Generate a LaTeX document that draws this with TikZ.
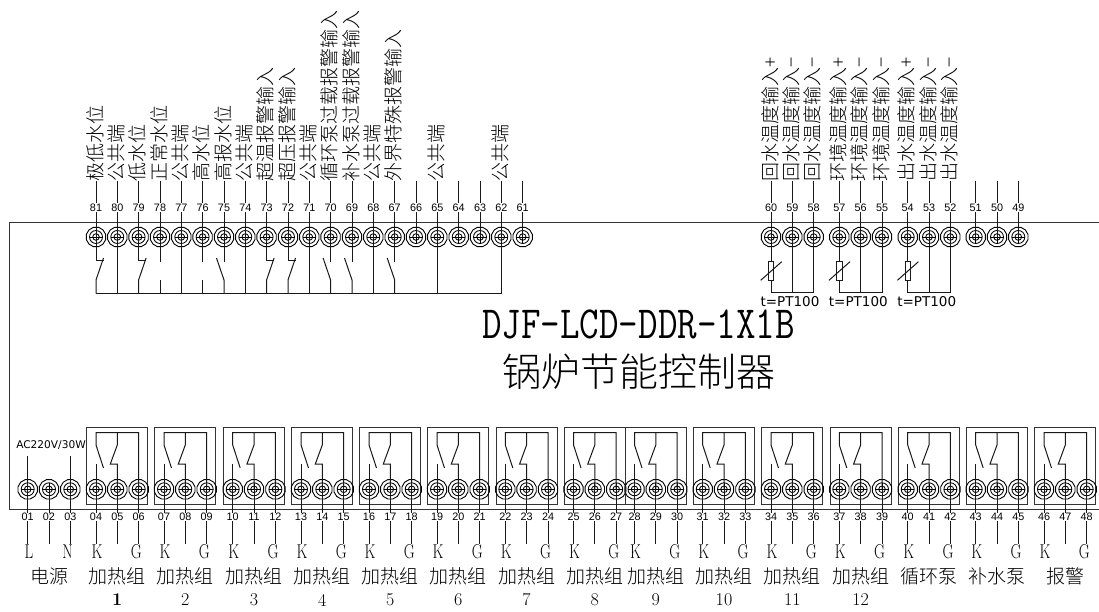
\documentclass[tikz,border=0pt]{standalone}
\usepackage{fontspec}
\usepackage{graphicx}
\usetikzlibrary{shapes.geometric}
\newfontfamily\cjk{Noto Sans CJK SC Light}
\newfontfamily\dvs{DejaVu Sans}
\newfontfamily\lbs{Liberation Sans}
\newcommand{\fs}[1]{\fontsize{#1}{#1}\selectfont}
\tikzset{
  wire/.style={line width=1pt,color=black!90},
  frameline/.style={line width=1pt,color=black!80},
  terminalnode/.style={regular polygon,regular polygon sides=12,draw=black,line width=0.9pt,minimum size=20pt,inner sep=0pt,
    path picture={\draw[line width=0.85pt] (path picture bounding box.center) circle (6.5pt) circle (3.3pt);
      \draw[line width=0.85pt] ([xshift=-6.5pt]path picture bounding box.center)--([xshift=6.5pt]path picture bounding box.center);
      \draw[line width=0.85pt] ([yshift=-6.5pt]path picture bounding box.center)--([yshift=6.5pt]path picture bounding box.center);}},
  numlabel/.style={font=\lbs\fs{10.8},fill=white,inner sep=0.5pt,text height=7.6pt,text depth=0pt},
  vertlabel/.style={font=\cjk\fs{19},rotate=90,anchor=west,inner sep=0pt},
  grouplabel/.style={font=\cjk\fs{19},inner sep=0pt},
  pinlabel/.style={font=\fs{20},inner sep=0pt},
}
\newcommand{\kg}[1]{\scalebox{.75}[1]{#1}}
\begin{document}
\begin{tikzpicture}[x=1pt,y=-1pt]
\useasboundingbox (0,0) rectangle (1099,612);
\fill[white] (0,0) rectangle (1099,612);
% controller outline
\coordinate (fA) at (1099,223); \coordinate (fB) at (9.5,223);
\coordinate (fC) at (9.5,509);  \coordinate (fD) at (1099,509);
\draw[frameline] (fA)--(fB)--(fC)--(fD);
% top terminals
\foreach \n/\x in {81/96,80/117.3,79/138.6,78/160,77/181.3,76/202.6,75/224,74/245.3,73/266.6,72/288,71/309.3,70/330.6,69/352,68/373.3,67/394.7,66/416,65/437.3,64/458.7,63/480,62/501.3,61/522.7,60/771,59/792.3,58/813.7,57/839.3,56/860.7,55/882,54/907.7,53/929,52/950.3,51/975.7,50/997,49/1018.3}{
  \node[terminalnode] (t\n) at (\x,237) {};
  \coordinate (e\n) at (\x,181.5);
  \draw[wire] (e\n)--(t\n.center);
  \node[numlabel] (n\n) at (\x,207.5) {\n};
}
% top labels
\foreach \n/\s in {81/极低水位,80/公共端,79/低水位,78/正常水位,77/公共端,76/高水位,75/高报水位,74/公共端,73/超温报警输入,72/超压报警输入,71/公共端,70/循环泵过载报警输入,69/补水泵过载报警输入,68/公共端,67/外界特殊报警输入,65/公共端,62/公共端,60/回水温度输入+,59/回水温度输入−,58/回水温度输入−,57/环境温度输入+,56/环境温度输入−,55/环境温度输入−,54/出水温度输入+,53/出水温度输入−,52/出水温度输入−}{
  \node[vertlabel] (lab\n) at ([xshift=-1pt]e\n) {\s};
}
% common rail of the inputs
\coordinate (railL) at (96,293.5); \coordinate (railR) at (501.3,293.5);
\draw[wire] (railL)--(railR);
% straight to the rail
\foreach \n/\x in {80/117.3,77/181.3,74/245.3,71/309.3,68/373.3,65/437.3,62/501.3}{
  \coordinate (r\n) at (\x,293.5);
  \draw[wire] (t\n.center)--(r\n);
}
% contact closing towards the right
\foreach \n/\x in {81/96,79/138.6,73/266.6,72/288}{
  \coordinate (r\n) at (\x,293.5);
  \draw[wire] (t\n.center)--(\x,260)--(\x+7.5,260);
  \draw[wire] (\x+7.5,258)--(\x,280)--(r\n);
}
% contact closing from the left
\foreach \n/\x in {75/224,70/330.6,69/352,67/394.7}{
  \coordinate (r\n) at (\x,293.5);
  \draw[wire] (t\n.center)--(\x,262);
  \draw[wire] (\x-7.5,258)--(\x,280)--(r\n);
}
% open stubs
\foreach \n/\x in {78/160,76/202.6}{
  \coordinate (r\n) at (\x,293.5);
  \draw[wire] (t\n.center)--(\x,262);
  \draw[wire] (\x,280)--(r\n);
}
% PT100 sensors
\foreach \a/\b/\c/\xa/\xb/\xc in {60/59/58/771/792.3/813.7,57/56/55/839.3/860.7/882,54/53/52/907.7/929/950.3}{
  \coordinate (p\a) at (\xa,292.7); \coordinate (p\b) at (\xb,292.7); \coordinate (p\c) at (\xc,292.7);
  \draw[wire] (t\a.center)--(p\a)--(p\c)--(t\c.center);
  \draw[wire] (t\b.center)--(p\b);
  \node[draw=black!90,line width=.9pt,fill=white,minimum width=5.5pt,minimum height=18.5pt,inner sep=0pt] (res\a) at (\xa,271) {};
  \draw[wire] (\xa-10.3,280.3)--(\xa+10.7,261.7);
  \node[font=\dvs\fs{13.5},inner sep=0pt] (pt\a) at (\xa+19,301.5) {t=PT100};
}
% power terminals
\foreach \n/\x/\s in {01/27.7/L,02/49/,03/70.3/N}{
  \node[terminalnode] (t\n) at (\x,489.3) {};
  \coordinate (d\n) at (\x,544);
}
\coordinate (u01) at (27.7,456); \coordinate (u03) at (70.3,456);
\draw[wire] (u01)--(d01); \draw[wire] (t02.center)--(d02); \draw[wire] (u03)--(d03);
\foreach \n/\x in {01/27.7,02/49,03/70.3}{ \node[numlabel] (n\n) at (\x,517) {\n}; }
\node[pinlabel] (pinL) at (29,552) {\kg{L}};
\node[pinlabel] (pinN) at (67.5,552) {\kg{N}};
\node[font=\dvs\fs{10.6},inner sep=0pt] (acv) at (51,445.5) {AC220V/30W};
\node[grouplabel] (gpow) at (49,576.5) {电源};
% relay groups
\foreach \k/\m/\g/\x in {04/05/06/96,07/08/09/164,10/11/12/232.7,13/14/15/301,16/17/18/369,19/20/21/437,22/23/24/505.3,25/26/27/573.5,28/29/30/634.5,31/32/33/702.7,34/35/36/771,37/38/39/839.3,40/41/42/907.7,43/44/45/975.7,46/47/48/1044}{
  \pgfmathsetmacro{\xm}{\x+21.3}
  \pgfmathsetmacro{\xg}{\x+42.7}
  \coordinate (bA\k) at (\x-9.2,427); \coordinate (bB\k) at (\x+51.9,504.5);
  \draw[frameline] (bA\k) rectangle (bB\k);
  \node[terminalnode] (t\k) at (\x,489.3) {};
  \node[terminalnode] (t\m) at (\xm,489.3) {};
  \node[terminalnode] (t\g) at (\xg,489.3) {};
  % contacts
  \draw[wire] (\x+7.5,468)--(\x,445)--(\x,432.7)--(\xg,432.7)--(t\g.center);
  \draw[wire] (\xm,432.7)--(\xm,445)--(\xm-7,464)--(\xm,464)--(t\m.center);
  \draw[wire] (\x,464)--(t\k.center);
  % field wires
  \coordinate (d\k) at (\x,544); \coordinate (d\m) at (\xm,544); \coordinate (d\g) at (\xg,544);
  \draw[wire] (t\k.center)--(d\k);
  \draw[wire] (t\m.center)--(d\m);
  \draw[wire] (t\g.center)--(d\g);
  \node[numlabel] (n\k) at (\x,517) {\k};
  \node[numlabel] (n\m) at (\xm,517) {\m};
  \node[numlabel] (n\g) at (\xg,517) {\g};
  \node[pinlabel] (pk\k) at (\x+1,552) {\kg{K}};
  \node[pinlabel] (pg\k) at (\x+40.3,552) {\kg{G}};
}
% group names
\foreach \i/\x/\s in {1/117.3/加热组,2/185.3/加热组,3/254/加热组,4/322.3/加热组,5/390.3/加热组,6/458.3/加热组,7/526.6/加热组,8/594.8/加热组,9/655.8/加热组,10/724/加热组,11/792.3/加热组,12/860.6/加热组,13/929/循环泵,14/997/补水泵,15/1065.3/报警}{
  \node[grouplabel] (gn\i) at (\x,576.5) {\s};
}
\node[pinlabel,font=\bfseries\fs{18}] (gi1) at (117.3,600) {1};
\foreach \i/\x in {2/185.3,3/254,4/322.3,5/390.3,6/458.3,7/526.6,8/594.8,9/655.8,10/724,11/792.3,12/860.6}{
  \node[pinlabel,font=\fs{18}] (gi\i) at (\x,600) {\i};
}
% title
\node[font=\ttfamily\fs{46},inner sep=0pt] (title) at (638.5,324) {\scalebox{.825}[1]{DJF-LCD-DDR-1X1B}};
\node[font=\cjk\fs{39},inner sep=0pt] (subtitle) at (639,372) {锅炉节能控制器};
\end{tikzpicture}
\end{document}
